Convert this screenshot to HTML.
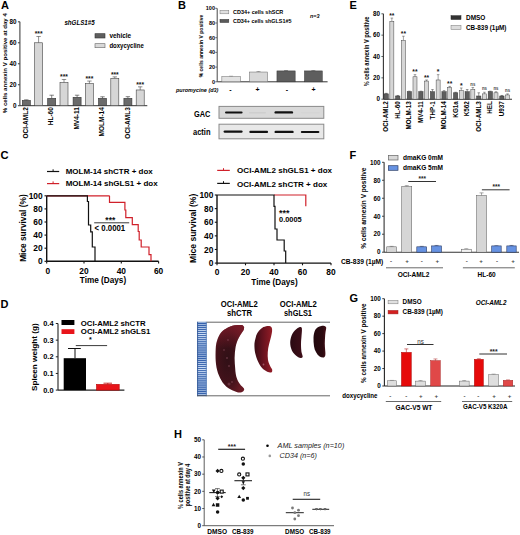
<!DOCTYPE html><html><head><meta charset="utf-8"><style>html,body{margin:0;padding:0;background:#fff;}svg{display:block;}text{font-family:"Liberation Sans",sans-serif;}</style></head><body>
<svg width="520" height="535" viewBox="0 0 520 535">
<rect width="520" height="535" fill="#fff"/>
<text x="0.9" y="9.28" font-size="11" font-weight="bold">A</text>
<line x1="19.9" y1="105.7" x2="19.9" y2="21.8" stroke="#444" stroke-width="1.1"/>
<line x1="17.9" y1="105.7" x2="19.9" y2="105.7" stroke="#444" stroke-width="1.1"/>
<text x="16.4" y="107.97" font-size="6.3" font-weight="bold" text-anchor="end">0</text>
<line x1="17.9" y1="84.72" x2="19.9" y2="84.72" stroke="#444" stroke-width="1.1"/>
<text x="16.4" y="86.99" font-size="6.3" font-weight="bold" text-anchor="end">20</text>
<line x1="17.9" y1="63.75" x2="19.9" y2="63.75" stroke="#444" stroke-width="1.1"/>
<text x="16.4" y="66.02" font-size="6.3" font-weight="bold" text-anchor="end">40</text>
<line x1="17.9" y1="42.77" x2="19.9" y2="42.77" stroke="#444" stroke-width="1.1"/>
<text x="16.4" y="45.04" font-size="6.3" font-weight="bold" text-anchor="end">60</text>
<line x1="17.9" y1="21.8" x2="19.9" y2="21.8" stroke="#444" stroke-width="1.1"/>
<text x="16.4" y="24.07" font-size="6.3" font-weight="bold" text-anchor="end">80</text>
<line x1="19.9" y1="105.7" x2="147.3" y2="105.7" stroke="#333" stroke-width="1.0"/>
<text x="6.76" y="113.2" font-size="6" font-weight="bold" textLength="100" lengthAdjust="spacingAndGlyphs" transform="rotate(-90 6.76 113.2)">% cells annexin V positive at day 4</text>
<line x1="26.3" y1="100.46" x2="26.3" y2="99.83" stroke="#333" stroke-width="0.6"/>
<line x1="24.1" y1="99.83" x2="28.5" y2="99.83" stroke="#333" stroke-width="0.6"/>
<rect x="22.3" y="100.46" width="8" height="5.24" fill="#6b6b6b" stroke="#333" stroke-width="0.6"/>
<line x1="38.6" y1="42.77" x2="38.6" y2="36.48" stroke="#444" stroke-width="0.6"/>
<line x1="36.4" y1="36.48" x2="40.8" y2="36.48" stroke="#444" stroke-width="0.6"/>
<rect x="34.6" y="42.77" width="8" height="62.93" fill="#d6d6d6" stroke="#444" stroke-width="0.6"/>
<text x="34.68" y="36.46" font-size="6.71" font-weight="bold" fill="#111">***</text>
<line x1="51.7" y1="98.36" x2="51.7" y2="95.21" stroke="#333" stroke-width="0.6"/>
<line x1="49.5" y1="95.21" x2="53.9" y2="95.21" stroke="#333" stroke-width="0.6"/>
<rect x="47.7" y="98.36" width="8" height="7.34" fill="#6b6b6b" stroke="#333" stroke-width="0.6"/>
<line x1="64" y1="82.63" x2="64" y2="79.48" stroke="#444" stroke-width="0.6"/>
<line x1="61.8" y1="79.48" x2="66.2" y2="79.48" stroke="#444" stroke-width="0.6"/>
<rect x="60" y="82.63" width="8" height="23.07" fill="#d6d6d6" stroke="#444" stroke-width="0.6"/>
<text x="60.08" y="79.45" font-size="6.71" font-weight="bold" fill="#111">***</text>
<line x1="77.1" y1="97.31" x2="77.1" y2="95.21" stroke="#333" stroke-width="0.6"/>
<line x1="74.9" y1="95.21" x2="79.3" y2="95.21" stroke="#333" stroke-width="0.6"/>
<rect x="73.1" y="97.31" width="8" height="8.39" fill="#6b6b6b" stroke="#333" stroke-width="0.6"/>
<line x1="89.4" y1="83.68" x2="89.4" y2="81.05" stroke="#444" stroke-width="0.6"/>
<line x1="87.2" y1="81.05" x2="91.6" y2="81.05" stroke="#444" stroke-width="0.6"/>
<rect x="85.4" y="83.68" width="8" height="22.02" fill="#d6d6d6" stroke="#444" stroke-width="0.6"/>
<text x="85.48" y="81.03" font-size="6.71" font-weight="bold" fill="#111">***</text>
<line x1="102.5" y1="98.36" x2="102.5" y2="96.79" stroke="#333" stroke-width="0.6"/>
<line x1="100.3" y1="96.79" x2="104.7" y2="96.79" stroke="#333" stroke-width="0.6"/>
<rect x="98.5" y="98.36" width="8" height="7.34" fill="#6b6b6b" stroke="#333" stroke-width="0.6"/>
<line x1="114.8" y1="78.43" x2="114.8" y2="76.86" stroke="#444" stroke-width="0.6"/>
<line x1="112.6" y1="76.86" x2="117" y2="76.86" stroke="#444" stroke-width="0.6"/>
<rect x="110.8" y="78.43" width="8" height="27.27" fill="#d6d6d6" stroke="#444" stroke-width="0.6"/>
<text x="110.88" y="76.83" font-size="6.71" font-weight="bold" fill="#111">***</text>
<line x1="127.9" y1="98.36" x2="127.9" y2="96.68" stroke="#333" stroke-width="0.6"/>
<line x1="125.7" y1="96.68" x2="130.1" y2="96.68" stroke="#333" stroke-width="0.6"/>
<rect x="123.9" y="98.36" width="8" height="7.34" fill="#6b6b6b" stroke="#333" stroke-width="0.6"/>
<line x1="140.2" y1="89.97" x2="140.2" y2="86.82" stroke="#444" stroke-width="0.6"/>
<line x1="138" y1="86.82" x2="142.4" y2="86.82" stroke="#444" stroke-width="0.6"/>
<rect x="136.2" y="89.97" width="8" height="15.73" fill="#d6d6d6" stroke="#444" stroke-width="0.6"/>
<text x="136.28" y="86.8" font-size="6.71" font-weight="bold" fill="#111">***</text>
<text x="27.94" y="107.2" font-size="6.5" font-weight="bold" text-anchor="end" transform="rotate(-90 27.94 107.2)">OCI-AML2</text>
<text x="53.34" y="107.2" font-size="6.5" font-weight="bold" text-anchor="end" transform="rotate(-90 53.34 107.2)">HL-60</text>
<text x="78.74" y="107.2" font-size="6.5" font-weight="bold" text-anchor="end" transform="rotate(-90 78.74 107.2)">MV4-11</text>
<text x="104.14" y="107.2" font-size="6.5" font-weight="bold" text-anchor="end" transform="rotate(-90 104.14 107.2)">MOLM-14</text>
<text x="129.54" y="107.2" font-size="6.5" font-weight="bold" text-anchor="end" transform="rotate(-90 129.54 107.2)">OCI-AML3</text>
<text x="64.4" y="25.06" font-size="7.4" font-weight="bold" font-style="italic" textLength="30.2" lengthAdjust="spacingAndGlyphs">shGLS1#5</text>
<rect x="95" y="33.7" width="10" height="4.3" fill="#5e5e5e" stroke="#333" stroke-width="0.6"/>
<rect x="95" y="43.7" width="10" height="4" fill="#d8d8d8" stroke="#666" stroke-width="0.6"/>
<text x="109.4" y="38.19" font-size="7.2" font-weight="bold" textLength="21.8" lengthAdjust="spacingAndGlyphs">vehicle</text>
<text x="109.4" y="48.29" font-size="7.2" font-weight="bold" textLength="34.4" lengthAdjust="spacingAndGlyphs">doxycycline</text>
<text x="177.9" y="9.28" font-size="11" font-weight="bold">B</text>
<line x1="217.2" y1="81.8" x2="217.2" y2="8.3" stroke="#333" stroke-width="0.9"/>
<line x1="215.3" y1="81.8" x2="217" y2="81.8" stroke="#333" stroke-width="0.7"/>
<text x="215" y="83.78" font-size="5.5" font-weight="bold" text-anchor="end">0</text>
<line x1="215.3" y1="67.1" x2="217" y2="67.1" stroke="#333" stroke-width="0.7"/>
<text x="215" y="69.08" font-size="5.5" font-weight="bold" text-anchor="end">20</text>
<line x1="215.3" y1="52.4" x2="217" y2="52.4" stroke="#333" stroke-width="0.7"/>
<text x="215" y="54.38" font-size="5.5" font-weight="bold" text-anchor="end">40</text>
<line x1="215.3" y1="37.7" x2="217" y2="37.7" stroke="#333" stroke-width="0.7"/>
<text x="215" y="39.68" font-size="5.5" font-weight="bold" text-anchor="end">60</text>
<line x1="215.3" y1="23" x2="217" y2="23" stroke="#333" stroke-width="0.7"/>
<text x="215" y="24.98" font-size="5.5" font-weight="bold" text-anchor="end">80</text>
<line x1="215.3" y1="8.3" x2="217" y2="8.3" stroke="#333" stroke-width="0.7"/>
<text x="215" y="10.28" font-size="5.5" font-weight="bold" text-anchor="end">100</text>
<line x1="217.2" y1="81.8" x2="327.6" y2="81.8" stroke="#333" stroke-width="1.0"/>
<text x="202.76" y="77.3" font-size="4.6" font-weight="bold" textLength="62.6" lengthAdjust="spacingAndGlyphs" transform="rotate(-90 202.76 77.3)">% cells annexin V positive</text>
<line x1="231.1" y1="76.66" x2="231.1" y2="76.21" stroke="#666" stroke-width="0.5"/>
<line x1="229.1" y1="76.21" x2="233.1" y2="76.21" stroke="#666" stroke-width="0.5"/>
<rect x="221.85" y="76.66" width="18.5" height="5.14" fill="#e2e2e2" stroke="#666" stroke-width="0.5"/>
<line x1="258.5" y1="72.02" x2="258.5" y2="71.51" stroke="#666" stroke-width="0.5"/>
<line x1="256.5" y1="71.51" x2="260.5" y2="71.51" stroke="#666" stroke-width="0.5"/>
<rect x="249.45" y="72.02" width="18.1" height="9.78" fill="#d8d8d8" stroke="#666" stroke-width="0.5"/>
<line x1="286.05" y1="70.92" x2="286.05" y2="70.63" stroke="#333" stroke-width="0.5"/>
<line x1="284.05" y1="70.63" x2="288.05" y2="70.63" stroke="#333" stroke-width="0.5"/>
<rect x="276.95" y="70.92" width="18.2" height="10.88" fill="#5e5e5e" stroke="#333" stroke-width="0.5"/>
<line x1="313.35" y1="70.92" x2="313.35" y2="70.63" stroke="#333" stroke-width="0.5"/>
<line x1="311.35" y1="70.63" x2="315.35" y2="70.63" stroke="#333" stroke-width="0.5"/>
<rect x="304.45" y="70.92" width="17.8" height="10.88" fill="#5e5e5e" stroke="#333" stroke-width="0.5"/>
<text x="176" y="91.96" font-size="6" font-weight="bold" font-style="italic" textLength="42.4" lengthAdjust="spacingAndGlyphs">puromycine (d3)</text>
<text x="230.5" y="92.32" font-size="7" font-weight="bold" text-anchor="middle">-</text>
<text x="257.5" y="92.32" font-size="7" font-weight="bold" text-anchor="middle">+</text>
<text x="286.8" y="92.32" font-size="7" font-weight="bold" text-anchor="middle">-</text>
<text x="313.6" y="92.32" font-size="7" font-weight="bold" text-anchor="middle">+</text>
<rect x="220" y="10.4" width="8.8" height="3.4" fill="#e0e0e0" stroke="#777" stroke-width="0.5"/>
<rect x="220" y="19.4" width="8.8" height="3.1" fill="#5a5a5a" stroke="#333" stroke-width="0.5"/>
<text x="233" y="14.12" font-size="5.6" font-weight="bold" textLength="50.3" lengthAdjust="spacingAndGlyphs">CD34+ cells shSCR</text>
<text x="233" y="22.62" font-size="5.6" font-weight="bold" textLength="58.5" lengthAdjust="spacingAndGlyphs">CD34+ cells shGLS1#5</text>
<text x="310" y="18.42" font-size="5.6" font-weight="bold" font-style="italic" textLength="9.5" lengthAdjust="spacingAndGlyphs">n=3</text>
<rect x="219" y="106.4" width="104.8" height="11.9" fill="#d9d9d9" stroke="#8a8a8a" stroke-width="1.0"/>
<rect x="219" y="124.2" width="104.8" height="14.6" fill="#e8e8e8" stroke="#8a8a8a" stroke-width="1.0"/>
<text x="194" y="116.7" font-size="8.4" font-weight="bold" textLength="16.4" lengthAdjust="spacingAndGlyphs">GAC</text>
<text x="193" y="134.62" font-size="8.4" font-weight="bold" textLength="17.5" lengthAdjust="spacingAndGlyphs">actin</text>
<rect x="225" y="111.4" width="17.6" height="2.2" rx="1.1" fill="#111" opacity="1"/>
<rect x="249" y="112" width="17" height="1.6" rx="0.8" fill="#c4c4c4" opacity="0.5"/>
<rect x="274.5" y="111.2" width="18.6" height="2.4" rx="1.2" fill="#111" opacity="1"/>
<rect x="300.8" y="111.9" width="18.9" height="1.4" rx="0.7" fill="#cccccc" opacity="0.3"/>
<rect x="223.6" y="130.4" width="19" height="2.4" rx="1.2" fill="#111" opacity="1"/>
<rect x="249.3" y="130.85" width="18.8" height="2.1" rx="1.05" fill="#111" opacity="1"/>
<rect x="274.5" y="130.7" width="19.2" height="2.4" rx="1.2" fill="#111" opacity="1"/>
<rect x="300.8" y="130.95" width="18.6" height="2.1" rx="1.05" fill="#111" opacity="1"/>
<text x="349.6" y="9.28" font-size="11" font-weight="bold">E</text>
<line x1="383.4" y1="99.2" x2="383.4" y2="13.8" stroke="#333" stroke-width="1.1"/>
<line x1="381.4" y1="99.2" x2="383.4" y2="99.2" stroke="#333" stroke-width="0.8"/>
<text x="380" y="101.47" font-size="6.3" font-weight="bold" text-anchor="end">0</text>
<line x1="381.4" y1="77.85" x2="383.4" y2="77.85" stroke="#333" stroke-width="0.8"/>
<text x="380" y="80.12" font-size="6.3" font-weight="bold" text-anchor="end">20</text>
<line x1="381.4" y1="56.5" x2="383.4" y2="56.5" stroke="#333" stroke-width="0.8"/>
<text x="380" y="58.77" font-size="6.3" font-weight="bold" text-anchor="end">40</text>
<line x1="381.4" y1="35.15" x2="383.4" y2="35.15" stroke="#333" stroke-width="0.8"/>
<text x="380" y="37.42" font-size="6.3" font-weight="bold" text-anchor="end">60</text>
<line x1="381.4" y1="13.8" x2="383.4" y2="13.8" stroke="#333" stroke-width="0.8"/>
<text x="380" y="16.07" font-size="6.3" font-weight="bold" text-anchor="end">80</text>
<line x1="383.4" y1="99.2" x2="512" y2="99.2" stroke="#333" stroke-width="1.1"/>
<text x="368.9" y="86.3" font-size="6.4" font-weight="bold" textLength="69.8" lengthAdjust="spacingAndGlyphs" transform="rotate(-90 368.9 86.3)">% cells annexin V positive</text>
<line x1="386.2" y1="93.86" x2="386.2" y2="93.33" stroke="#333" stroke-width="0.5"/>
<line x1="384.9" y1="93.33" x2="387.5" y2="93.33" stroke="#333" stroke-width="0.5"/>
<rect x="384.05" y="93.86" width="4.3" height="5.34" fill="#5e5e5e" stroke="#333" stroke-width="0.5"/>
<line x1="391.85" y1="21.27" x2="391.85" y2="18.07" stroke="#444" stroke-width="0.5"/>
<line x1="390.55" y1="18.07" x2="393.15" y2="18.07" stroke="#444" stroke-width="0.5"/>
<rect x="389.85" y="21.27" width="4" height="77.93" fill="#d6d6d6" stroke="#444" stroke-width="0.5"/>
<text x="389.23" y="17.85" font-size="6.73" font-weight="bold" fill="#111">**</text>
<text x="388.37" y="101.2" font-size="6.3" font-weight="bold" text-anchor="end" transform="rotate(-90 388.37 101.2)">OCI-AML2</text>
<line x1="397.77" y1="96" x2="397.77" y2="95.46" stroke="#333" stroke-width="0.5"/>
<line x1="396.47" y1="95.46" x2="399.07" y2="95.46" stroke="#333" stroke-width="0.5"/>
<rect x="395.62" y="96" width="4.3" height="3.2" fill="#5e5e5e" stroke="#333" stroke-width="0.5"/>
<line x1="403.42" y1="40.49" x2="403.42" y2="36.22" stroke="#444" stroke-width="0.5"/>
<line x1="402.12" y1="36.22" x2="404.72" y2="36.22" stroke="#444" stroke-width="0.5"/>
<rect x="401.42" y="40.49" width="4" height="58.71" fill="#d6d6d6" stroke="#444" stroke-width="0.5"/>
<text x="400.8" y="36" font-size="6.73" font-weight="bold" fill="#111">**</text>
<text x="399.94" y="101.2" font-size="6.3" font-weight="bold" text-anchor="end" transform="rotate(-90 399.94 101.2)">HL-60</text>
<line x1="409.34" y1="91.73" x2="409.34" y2="91.19" stroke="#333" stroke-width="0.5"/>
<line x1="408.04" y1="91.19" x2="410.64" y2="91.19" stroke="#333" stroke-width="0.5"/>
<rect x="407.19" y="91.73" width="4.3" height="7.47" fill="#5e5e5e" stroke="#333" stroke-width="0.5"/>
<line x1="414.99" y1="76.78" x2="414.99" y2="74.65" stroke="#444" stroke-width="0.5"/>
<line x1="413.69" y1="74.65" x2="416.29" y2="74.65" stroke="#444" stroke-width="0.5"/>
<rect x="412.99" y="76.78" width="4" height="22.42" fill="#d6d6d6" stroke="#444" stroke-width="0.5"/>
<text x="412.37" y="74.43" font-size="6.73" font-weight="bold" fill="#111">**</text>
<text x="411.51" y="101.2" font-size="6.3" font-weight="bold" text-anchor="end" transform="rotate(-90 411.51 101.2)">MOLM-13</text>
<line x1="420.91" y1="91.73" x2="420.91" y2="91.19" stroke="#333" stroke-width="0.5"/>
<line x1="419.61" y1="91.19" x2="422.21" y2="91.19" stroke="#333" stroke-width="0.5"/>
<rect x="418.76" y="91.73" width="4.3" height="7.47" fill="#5e5e5e" stroke="#333" stroke-width="0.5"/>
<line x1="426.56" y1="81.05" x2="426.56" y2="79.98" stroke="#444" stroke-width="0.5"/>
<line x1="425.26" y1="79.98" x2="427.86" y2="79.98" stroke="#444" stroke-width="0.5"/>
<rect x="424.56" y="81.05" width="4" height="18.15" fill="#d6d6d6" stroke="#444" stroke-width="0.5"/>
<text x="423.94" y="79.77" font-size="6.73" font-weight="bold" fill="#111">**</text>
<text x="423.08" y="101.2" font-size="6.3" font-weight="bold" text-anchor="end" transform="rotate(-90 423.08 101.2)">MV4-11</text>
<line x1="432.48" y1="91.73" x2="432.48" y2="89.59" stroke="#333" stroke-width="0.5"/>
<line x1="431.18" y1="89.59" x2="433.78" y2="89.59" stroke="#333" stroke-width="0.5"/>
<rect x="430.33" y="91.73" width="4.3" height="7.47" fill="#5e5e5e" stroke="#333" stroke-width="0.5"/>
<line x1="438.13" y1="79.98" x2="438.13" y2="74.65" stroke="#444" stroke-width="0.5"/>
<line x1="436.83" y1="74.65" x2="439.43" y2="74.65" stroke="#444" stroke-width="0.5"/>
<rect x="436.13" y="79.98" width="4" height="19.22" fill="#d6d6d6" stroke="#444" stroke-width="0.5"/>
<text x="436.81" y="74.45" font-size="6.77" font-weight="bold" fill="#111">*</text>
<text x="434.65" y="101.2" font-size="6.3" font-weight="bold" text-anchor="end" transform="rotate(-90 434.65 101.2)">THP-1</text>
<line x1="444.05" y1="91.73" x2="444.05" y2="90.66" stroke="#333" stroke-width="0.5"/>
<line x1="442.75" y1="90.66" x2="445.35" y2="90.66" stroke="#333" stroke-width="0.5"/>
<rect x="441.9" y="91.73" width="4.3" height="7.47" fill="#5e5e5e" stroke="#333" stroke-width="0.5"/>
<line x1="449.7" y1="87.46" x2="449.7" y2="86.39" stroke="#444" stroke-width="0.5"/>
<line x1="448.4" y1="86.39" x2="451" y2="86.39" stroke="#444" stroke-width="0.5"/>
<rect x="447.7" y="87.46" width="4" height="11.74" fill="#d6d6d6" stroke="#444" stroke-width="0.5"/>
<text x="447.08" y="86.17" font-size="6.73" font-weight="bold" fill="#111">**</text>
<text x="446.22" y="101.2" font-size="6.3" font-weight="bold" text-anchor="end" transform="rotate(-90 446.22 101.2)">MOLM-14</text>
<line x1="455.62" y1="92.8" x2="455.62" y2="92.26" stroke="#333" stroke-width="0.5"/>
<line x1="454.32" y1="92.26" x2="456.92" y2="92.26" stroke="#333" stroke-width="0.5"/>
<rect x="453.47" y="92.8" width="4.3" height="6.41" fill="#5e5e5e" stroke="#333" stroke-width="0.5"/>
<line x1="461.27" y1="90.66" x2="461.27" y2="87.99" stroke="#444" stroke-width="0.5"/>
<line x1="459.97" y1="87.99" x2="462.57" y2="87.99" stroke="#444" stroke-width="0.5"/>
<rect x="459.27" y="90.66" width="4" height="8.54" fill="#d6d6d6" stroke="#444" stroke-width="0.5"/>
<text x="459.95" y="87.79" font-size="6.77" font-weight="bold" fill="#111">*</text>
<text x="457.79" y="101.2" font-size="6.3" font-weight="bold" text-anchor="end" transform="rotate(-90 457.79 101.2)">KG1a</text>
<line x1="467.19" y1="91.73" x2="467.19" y2="89.59" stroke="#333" stroke-width="0.5"/>
<line x1="465.89" y1="89.59" x2="468.49" y2="89.59" stroke="#333" stroke-width="0.5"/>
<rect x="465.04" y="91.73" width="4.3" height="7.47" fill="#5e5e5e" stroke="#333" stroke-width="0.5"/>
<line x1="472.84" y1="89.59" x2="472.84" y2="87.46" stroke="#444" stroke-width="0.5"/>
<line x1="471.54" y1="87.46" x2="474.14" y2="87.46" stroke="#444" stroke-width="0.5"/>
<rect x="470.84" y="89.59" width="4" height="9.61" fill="#d6d6d6" stroke="#444" stroke-width="0.5"/>
<text x="472.84" y="85.67" font-size="5.6" font-weight="bold" text-anchor="middle" fill="#444" textLength="5" lengthAdjust="spacingAndGlyphs">ns</text>
<text x="469.36" y="101.2" font-size="6.3" font-weight="bold" text-anchor="end" transform="rotate(-90 469.36 101.2)">K562</text>
<line x1="478.76" y1="96" x2="478.76" y2="92.8" stroke="#333" stroke-width="0.5"/>
<line x1="477.46" y1="92.8" x2="480.06" y2="92.8" stroke="#333" stroke-width="0.5"/>
<rect x="476.61" y="96" width="4.3" height="3.2" fill="#5e5e5e" stroke="#333" stroke-width="0.5"/>
<line x1="484.41" y1="93.86" x2="484.41" y2="92.26" stroke="#444" stroke-width="0.5"/>
<line x1="483.11" y1="92.26" x2="485.71" y2="92.26" stroke="#444" stroke-width="0.5"/>
<rect x="482.41" y="93.86" width="4" height="5.34" fill="#d6d6d6" stroke="#444" stroke-width="0.5"/>
<text x="484.41" y="90.48" font-size="5.6" font-weight="bold" text-anchor="middle" fill="#444" textLength="5" lengthAdjust="spacingAndGlyphs">ns</text>
<text x="480.93" y="101.2" font-size="6.3" font-weight="bold" text-anchor="end" transform="rotate(-90 480.93 101.2)">OCI-AML3</text>
<line x1="490.33" y1="91.73" x2="490.33" y2="91.19" stroke="#333" stroke-width="0.5"/>
<line x1="489.03" y1="91.19" x2="491.63" y2="91.19" stroke="#333" stroke-width="0.5"/>
<rect x="488.18" y="91.73" width="4.3" height="7.47" fill="#5e5e5e" stroke="#333" stroke-width="0.5"/>
<line x1="495.98" y1="92.8" x2="495.98" y2="91.73" stroke="#444" stroke-width="0.5"/>
<line x1="494.68" y1="91.73" x2="497.28" y2="91.73" stroke="#444" stroke-width="0.5"/>
<rect x="493.98" y="92.8" width="4" height="6.41" fill="#d6d6d6" stroke="#444" stroke-width="0.5"/>
<text x="495.98" y="89.94" font-size="5.6" font-weight="bold" text-anchor="middle" fill="#444" textLength="5" lengthAdjust="spacingAndGlyphs">ns</text>
<text x="492.5" y="101.2" font-size="6.3" font-weight="bold" text-anchor="end" transform="rotate(-90 492.5 101.2)">HEL</text>
<line x1="501.9" y1="96" x2="501.9" y2="95.46" stroke="#333" stroke-width="0.5"/>
<line x1="500.6" y1="95.46" x2="503.2" y2="95.46" stroke="#333" stroke-width="0.5"/>
<rect x="499.75" y="96" width="4.3" height="3.2" fill="#5e5e5e" stroke="#333" stroke-width="0.5"/>
<line x1="507.55" y1="94.93" x2="507.55" y2="93.86" stroke="#444" stroke-width="0.5"/>
<line x1="506.25" y1="93.86" x2="508.85" y2="93.86" stroke="#444" stroke-width="0.5"/>
<rect x="505.55" y="94.93" width="4" height="4.27" fill="#d6d6d6" stroke="#444" stroke-width="0.5"/>
<text x="507.55" y="92.08" font-size="5.6" font-weight="bold" text-anchor="middle" fill="#444" textLength="5" lengthAdjust="spacingAndGlyphs">ns</text>
<text x="504.07" y="101.2" font-size="6.3" font-weight="bold" text-anchor="end" transform="rotate(-90 504.07 101.2)">U937</text>
<rect x="451" y="15.7" width="10" height="3.8" fill="#333" stroke="#222" stroke-width="0.5"/>
<rect x="451" y="25.4" width="10" height="4.1" fill="#dcdcdc" stroke="#777" stroke-width="0.5"/>
<text x="466" y="20.22" font-size="7" font-weight="bold" textLength="19.4" lengthAdjust="spacingAndGlyphs">DMSO</text>
<text x="466" y="30.22" font-size="7" font-weight="bold" textLength="40.5" lengthAdjust="spacingAndGlyphs">CB-839 (1µM)</text>
<text x="0.6" y="159.42" font-size="11.2" font-weight="bold">C</text>
<line x1="46.7" y1="261.3" x2="46.7" y2="195.8" stroke="#111" stroke-width="1.4"/>
<line x1="44.5" y1="261.3" x2="46.7" y2="261.3" stroke="#111" stroke-width="1.1"/>
<text x="42.7" y="264.32" font-size="8.4" font-weight="bold" text-anchor="end">0</text>
<line x1="44.5" y1="248.2" x2="46.7" y2="248.2" stroke="#111" stroke-width="1.1"/>
<text x="42.7" y="251.22" font-size="8.4" font-weight="bold" text-anchor="end">20</text>
<line x1="44.5" y1="235.1" x2="46.7" y2="235.1" stroke="#111" stroke-width="1.1"/>
<text x="42.7" y="238.12" font-size="8.4" font-weight="bold" text-anchor="end">40</text>
<line x1="44.5" y1="222" x2="46.7" y2="222" stroke="#111" stroke-width="1.1"/>
<text x="42.7" y="225.02" font-size="8.4" font-weight="bold" text-anchor="end">60</text>
<line x1="44.5" y1="208.9" x2="46.7" y2="208.9" stroke="#111" stroke-width="1.1"/>
<text x="42.7" y="211.92" font-size="8.4" font-weight="bold" text-anchor="end">80</text>
<line x1="44.5" y1="195.8" x2="46.7" y2="195.8" stroke="#111" stroke-width="1.1"/>
<text x="42.7" y="198.82" font-size="8.4" font-weight="bold" text-anchor="end">100</text>
<line x1="46.7" y1="261.3" x2="158.6" y2="261.3" stroke="#111" stroke-width="1.4"/>
<line x1="46.7" y1="261.3" x2="46.7" y2="263.5" stroke="#111" stroke-width="1.1"/>
<text x="47.9" y="273.62" font-size="8.4" font-weight="bold" text-anchor="middle">0</text>
<line x1="84" y1="261.3" x2="84" y2="263.5" stroke="#111" stroke-width="1.1"/>
<text x="84" y="273.62" font-size="8.4" font-weight="bold" text-anchor="middle">20</text>
<line x1="121.3" y1="261.3" x2="121.3" y2="263.5" stroke="#111" stroke-width="1.1"/>
<text x="121.3" y="273.62" font-size="8.4" font-weight="bold" text-anchor="middle">40</text>
<line x1="158.6" y1="261.3" x2="158.6" y2="263.5" stroke="#111" stroke-width="1.1"/>
<text x="158.6" y="273.62" font-size="8.4" font-weight="bold" text-anchor="middle">60</text>
<text x="103" y="283.25" font-size="8.2" font-weight="bold" text-anchor="middle" textLength="46.3" lengthAdjust="spacingAndGlyphs">Time (Days)</text>
<text x="25.82" y="261.8" font-size="8.4" font-weight="bold" textLength="67.5" lengthAdjust="spacingAndGlyphs" transform="rotate(-90 25.82 261.8)">Mice survival (%)</text>
<line x1="47" y1="171.5" x2="59.2" y2="171.5" stroke="#111" stroke-width="1.2"/>
<line x1="53.1" y1="169.3" x2="53.1" y2="171.5" stroke="#111" stroke-width="1.0"/>
<line x1="47" y1="183.6" x2="59.2" y2="183.6" stroke="#d0202a" stroke-width="1.2"/>
<line x1="53.1" y1="181.4" x2="53.1" y2="183.6" stroke="#d0202a" stroke-width="1.0"/>
<text x="65.7" y="174.38" font-size="8" font-weight="bold" textLength="87" lengthAdjust="spacingAndGlyphs">MOLM-14 shCTR + dox</text>
<text x="65.7" y="186.48" font-size="8" font-weight="bold" textLength="92" lengthAdjust="spacingAndGlyphs">MOLM-14 shGLS1 + dox</text>
<path d="M109.5,195.8 V202.3 H124.9 V210 H125.8 V217.7 H132.3 V224.6 H138.2 V231.5 H139.2 V240 H141.2 V247 H149 V254.6 H151 V261.3" stroke="#d0202a" stroke-width="1.2" fill="none"/>
<path d="M46.7,195.8 H109.5" stroke="#d0202a" stroke-width="1.2" fill="none"/>
<path d="M46.7,195.8 H87.4 V201.5 H88.5 V225 H90.7 V231.8 H92.3 V247 H95 V261.3" stroke="#111" stroke-width="1.2" fill="none"/>
<line x1="94.2" y1="222.8" x2="129.2" y2="222.8" stroke="#222" stroke-width="0.9"/>
<text x="105.37" y="223.34" font-size="8.43" font-weight="bold" fill="#111">***</text>
<text x="94.6" y="231.4" font-size="8.2" font-weight="bold" textLength="30.6" lengthAdjust="spacingAndGlyphs">&lt; 0.0001</text>
<line x1="217" y1="263.1" x2="217" y2="195" stroke="#111" stroke-width="1.4"/>
<line x1="214.8" y1="263.1" x2="217" y2="263.1" stroke="#111" stroke-width="1.1"/>
<text x="213.4" y="266.12" font-size="8.4" font-weight="bold" text-anchor="end">0</text>
<line x1="214.8" y1="249.48" x2="217" y2="249.48" stroke="#111" stroke-width="1.1"/>
<text x="213.4" y="252.5" font-size="8.4" font-weight="bold" text-anchor="end">20</text>
<line x1="214.8" y1="235.86" x2="217" y2="235.86" stroke="#111" stroke-width="1.1"/>
<text x="213.4" y="238.88" font-size="8.4" font-weight="bold" text-anchor="end">40</text>
<line x1="214.8" y1="222.24" x2="217" y2="222.24" stroke="#111" stroke-width="1.1"/>
<text x="213.4" y="225.26" font-size="8.4" font-weight="bold" text-anchor="end">60</text>
<line x1="214.8" y1="208.62" x2="217" y2="208.62" stroke="#111" stroke-width="1.1"/>
<text x="213.4" y="211.64" font-size="8.4" font-weight="bold" text-anchor="end">80</text>
<line x1="214.8" y1="195" x2="217" y2="195" stroke="#111" stroke-width="1.1"/>
<text x="213.4" y="198.02" font-size="8.4" font-weight="bold" text-anchor="end">100</text>
<line x1="217" y1="263.1" x2="331" y2="263.1" stroke="#111" stroke-width="1.4"/>
<line x1="217" y1="263.1" x2="217" y2="265.3" stroke="#111" stroke-width="1.1"/>
<text x="217" y="275.22" font-size="8.4" font-weight="bold" text-anchor="middle">0</text>
<line x1="245.5" y1="263.1" x2="245.5" y2="265.3" stroke="#111" stroke-width="1.1"/>
<text x="245.5" y="275.22" font-size="8.4" font-weight="bold" text-anchor="middle">20</text>
<line x1="274" y1="263.1" x2="274" y2="265.3" stroke="#111" stroke-width="1.1"/>
<text x="274" y="275.22" font-size="8.4" font-weight="bold" text-anchor="middle">40</text>
<line x1="302.5" y1="263.1" x2="302.5" y2="265.3" stroke="#111" stroke-width="1.1"/>
<text x="302.5" y="275.22" font-size="8.4" font-weight="bold" text-anchor="middle">60</text>
<line x1="331" y1="263.1" x2="331" y2="265.3" stroke="#111" stroke-width="1.1"/>
<text x="331" y="275.22" font-size="8.4" font-weight="bold" text-anchor="middle">80</text>
<text x="274.5" y="285.05" font-size="8.2" font-weight="bold" text-anchor="middle" textLength="46.3" lengthAdjust="spacingAndGlyphs">Time (Days)</text>
<text x="195.62" y="262.9" font-size="8.4" font-weight="bold" textLength="69.2" lengthAdjust="spacingAndGlyphs" transform="rotate(-90 195.62 262.9)">Mice survival (%)</text>
<line x1="217.2" y1="170.4" x2="229.8" y2="170.4" stroke="#d0202a" stroke-width="1.2"/>
<line x1="223.5" y1="168.2" x2="223.5" y2="170.4" stroke="#d0202a" stroke-width="1.0"/>
<line x1="217.2" y1="183.4" x2="229.8" y2="183.4" stroke="#111" stroke-width="1.2"/>
<line x1="223.5" y1="181.2" x2="223.5" y2="183.4" stroke="#111" stroke-width="1.0"/>
<text x="237.1" y="173.28" font-size="8" font-weight="bold" textLength="95" lengthAdjust="spacingAndGlyphs">OCI-AML2 shGLS1 + dox</text>
<text x="237.1" y="186.58" font-size="8" font-weight="bold" textLength="90.2" lengthAdjust="spacingAndGlyphs">OCI-AML2 shCTR + dox</text>
<path d="M274,195 H305.8 V206.3" stroke="#d0202a" stroke-width="1.2" fill="none"/>
<path d="M217,195 H274 V206.3 H275 V229 H277 V240 H284.2 V251 H285.7 V263.1" stroke="#111" stroke-width="1.2" fill="none"/>
<text x="278.97" y="215.8" font-size="8.95" font-weight="bold" fill="#111">***</text>
<text x="279" y="221.69" font-size="7.2" font-weight="bold" textLength="22.7" lengthAdjust="spacingAndGlyphs">0.0005</text>
<text x="0.6" y="308.28" font-size="11" font-weight="bold">D</text>
<line x1="58" y1="390.1" x2="58" y2="323.5" stroke="#222" stroke-width="1.1"/>
<line x1="55.8" y1="390.1" x2="58" y2="390.1" stroke="#222" stroke-width="1.0"/>
<text x="53.5" y="392.76" font-size="7.4" font-weight="bold" text-anchor="end">0.0</text>
<line x1="55.8" y1="373.45" x2="58" y2="373.45" stroke="#222" stroke-width="1.0"/>
<text x="53.5" y="376.11" font-size="7.4" font-weight="bold" text-anchor="end">0.1</text>
<line x1="55.8" y1="356.8" x2="58" y2="356.8" stroke="#222" stroke-width="1.0"/>
<text x="53.5" y="359.46" font-size="7.4" font-weight="bold" text-anchor="end">0.2</text>
<line x1="55.8" y1="340.15" x2="58" y2="340.15" stroke="#222" stroke-width="1.0"/>
<text x="53.5" y="342.81" font-size="7.4" font-weight="bold" text-anchor="end">0.3</text>
<line x1="55.8" y1="323.5" x2="58" y2="323.5" stroke="#222" stroke-width="1.0"/>
<text x="53.5" y="326.16" font-size="7.4" font-weight="bold" text-anchor="end">0.4</text>
<line x1="58" y1="390.1" x2="124.4" y2="390.1" stroke="#222" stroke-width="1.1"/>
<text x="37.06" y="391" font-size="7.4" font-weight="bold" textLength="67.7" lengthAdjust="spacingAndGlyphs" transform="rotate(-90 37.06 391)">Spleen weight (g)</text>
<line x1="75" y1="358.2" x2="75" y2="348.5" stroke="#111" stroke-width="1.0"/>
<line x1="68" y1="348.5" x2="80.8" y2="348.5" stroke="#111" stroke-width="1.0"/>
<rect x="63.7" y="358.2" width="22.3" height="31.9" fill="#000"/>
<line x1="107.8" y1="384.4" x2="107.8" y2="383.2" stroke="#b00" stroke-width="0.8"/>
<line x1="103.5" y1="383.2" x2="112" y2="383.2" stroke="#b00" stroke-width="0.8"/>
<rect x="96.5" y="384.4" width="22.7" height="5.7" fill="#e8141a" stroke="#b80000" stroke-width="0.6"/>
<rect x="61.5" y="320" width="12.9" height="5" fill="#000"/>
<rect x="61.5" y="329.2" width="12.9" height="4.8" fill="#e8141a"/>
<text x="80.8" y="325.82" font-size="8.1" font-weight="bold" textLength="64.8" lengthAdjust="spacingAndGlyphs">OCI-AML2 shCTR</text>
<text x="80.8" y="334.22" font-size="8.1" font-weight="bold" textLength="69.6" lengthAdjust="spacingAndGlyphs">OCI-AML2 shGLS1</text>
<line x1="75.8" y1="345.6" x2="107.1" y2="345.6" stroke="#222" stroke-width="0.9"/>
<text x="90.4" y="342.32" font-size="7" font-weight="bold" text-anchor="middle">*</text>
<defs><radialGradient id="sp1" cx="0.42" cy="0.5" r="0.62"><stop offset="0" stop-color="#301016"/><stop offset="0.6" stop-color="#42121a"/><stop offset="1" stop-color="#681a24"/></radialGradient><linearGradient id="sp1b" x1="0" y1="0" x2="0" y2="1"><stop offset="0" stop-color="#7a1a28" stop-opacity="0.8"/><stop offset="0.35" stop-color="#7a1a28" stop-opacity="0"/></linearGradient><linearGradient id="sp2" x1="0" y1="0" x2="1" y2="0"><stop offset="0" stop-color="#380c14"/><stop offset="0.45" stop-color="#64121e"/><stop offset="1" stop-color="#941c26"/></linearGradient><linearGradient id="sp3" x1="0" y1="0" x2="1" y2="0"><stop offset="0" stop-color="#2a0a12"/><stop offset="1" stop-color="#3e0e18"/></linearGradient><linearGradient id="sp4" x1="0" y1="0" x2="1" y2="0"><stop offset="0" stop-color="#22080e"/><stop offset="0.7" stop-color="#2c0a10"/><stop offset="1" stop-color="#461018"/></linearGradient><pattern id="rul" x="0" y="321.8" width="10" height="2.06" patternUnits="userSpaceOnUse"><rect width="10" height="2.06" fill="#3460ac"/><rect y="0" width="10" height="0.85" fill="#cfe0f6"/></pattern></defs>
<rect x="197.1" y="321.8" width="9.6" height="74.4" fill="url(#rul)"/>
<rect x="197.1" y="321.8" width="1" height="74.4" fill="#3a5f9c"/>
<rect x="205.8" y="321.8" width="0.9" height="74.4" fill="#5a80b8"/>
<line x1="206.7" y1="322.2" x2="330" y2="322.2" stroke="#555" stroke-width="0.9"/>
<line x1="197.1" y1="395.8" x2="330" y2="395.8" stroke="#555" stroke-width="0.9"/>
<path d="M244.1,327.2 C243.5,325.5 242.5,324.9 241,324.9 C236,324.9 233,325.2 230.3,326.4 C227,327.8 224.5,329.3 222.6,331 C220.5,333 219,335.5 218,338 C216.5,341.5 215.9,345 215.7,348.7 C215.5,352.5 215.5,357 215.7,361 C216,365.5 216.8,369.5 218,373.2 C219.2,376.5 220.7,379.6 222.6,382.4 C224.8,385.3 227.3,387.6 230.3,389.3 C232.8,390.7 235.3,391.8 238,392.4 C240,392.8 242.2,392.3 243.3,391.3 C244.2,390.5 244.4,389.5 244,388.6 C243.3,387.5 242.2,386.5 241,385.5 C239.5,383.7 238.1,381.6 237.2,379.3 C235.9,376 235.4,372.3 235.2,368.6 C234.9,365 234.6,361.5 234.6,357.9 C234.7,354 235,350.5 235.6,347.1 C236.3,343.7 237.3,340.7 238.7,338 C239.8,335.8 241.2,333.7 242.5,331.8 C243.3,330.6 243.9,329.6 244,328.7 C244.1,328.2 244.2,327.7 244.1,327.2 Z" stroke="none" stroke-width="0" fill="url(#sp1)"/>
<path d="M244.1,327.2 C243.5,325.5 242.5,324.9 241,324.9 C236,324.9 233,325.2 230.3,326.4 C227,327.8 224.5,329.3 222.6,331 C220.5,333 219,335.5 218,338 C216.5,341.5 215.9,345 215.7,348.7 C215.5,352.5 215.5,357 215.7,361 C216,365.5 216.8,369.5 218,373.2 C219.2,376.5 220.7,379.6 222.6,382.4 C224.8,385.3 227.3,387.6 230.3,389.3 C232.8,390.7 235.3,391.8 238,392.4 C240,392.8 242.2,392.3 243.3,391.3 C244.2,390.5 244.4,389.5 244,388.6 C243.3,387.5 242.2,386.5 241,385.5 C239.5,383.7 238.1,381.6 237.2,379.3 C235.9,376 235.4,372.3 235.2,368.6 C234.9,365 234.6,361.5 234.6,357.9 C234.7,354 235,350.5 235.6,347.1 C236.3,343.7 237.3,340.7 238.7,338 C239.8,335.8 241.2,333.7 242.5,331.8 C243.3,330.6 243.9,329.6 244,328.7 C244.1,328.2 244.2,327.7 244.1,327.2 Z" stroke="none" stroke-width="0" fill="url(#sp1b)"/>
<circle cx="227" cy="358" r="1.1" fill="#a06070" opacity="0.4"/>
<circle cx="229" cy="366" r="1.0" fill="#a06070" opacity="0.4"/>
<circle cx="229" cy="384" r="1.5" fill="#a06070" opacity="0.4"/>
<circle cx="232" cy="382" r="1.0" fill="#a06070" opacity="0.4"/>
<circle cx="224" cy="350" r="0.9" fill="#a06070" opacity="0.4"/>
<circle cx="228" cy="340" r="0.9" fill="#a06070" opacity="0.4"/>
<path d="M263.4,327.1 C265.5,326.3 268,325.8 269.5,326.1 C271.5,326.5 272.4,328 272.1,331.2 C271.8,334 270.5,339 269,344.6 C267.8,349 267.3,355 268,360 C268.5,363 270,366 272.1,369.3 C272.5,371 272.2,372.4 271,372.6 C269.5,372.8 265,371 262.3,368.2 C259.5,365.5 256.5,359 255.1,352.8 C254.3,348 254.3,344 254.6,342.6 C255,339.5 256,337 256.2,335.4 C257.5,332.5 260,329 263.4,327.1 Z" stroke="none" stroke-width="0" fill="url(#sp2)"/>
<circle cx="263.5" cy="364.5" r="0.9" fill="#c08090" opacity="0.6"/>
<path d="M299.3,327.2 C300.5,326.8 301.6,327 301.9,328.5 C302.1,331 301.6,334.5 301.4,337.6 C301.1,340 301,342.5 301,344.5 C301,347 301.2,349.5 301.4,351.4 C301.7,353.3 302.6,355 302.7,356.6 C302.6,357.8 301.8,358.2 300.8,358 C299,357.7 297.5,356.8 296.2,355.7 C294.3,354.1 292.9,352.4 291.9,350.5 C290.8,348 290.2,345.5 290.2,342.8 C290.2,340.3 290.7,338 291.5,335.8 C292.6,333 294.3,330.8 296.2,329.2 C297.2,328.3 298.2,327.6 299.3,327.2 Z" stroke="none" stroke-width="0" fill="url(#sp3)"/>
<path d="M321.3,325.9 C323,325.6 324.8,325.8 325.7,326.8 C326.4,327.5 326.3,328.2 326.1,328.9 C325.7,331 325.3,333 325.2,335 C325,338 324.8,341 324.8,343.6 C324.8,346 325,348.5 325.2,350.5 C325.4,352.5 325.6,354.3 325.2,355.7 C324.8,357 324,357.6 323.1,357.5 C321.8,357.4 320.6,357.2 319.6,356.6 C318.2,355.5 317,354 316.1,352.3 C315,350.4 314.3,348.4 314,346.2 C313.6,343.4 313.4,340.5 313.5,337.6 C313.6,335 314.2,332 315.3,329.8 C316.5,327.8 318.8,326.3 321.3,325.9 Z" stroke="none" stroke-width="0" fill="url(#sp4)"/>
<text x="239.3" y="307.19" font-size="8.3" font-weight="bold" text-anchor="middle" textLength="37" lengthAdjust="spacingAndGlyphs">OCI-AML2</text>
<text x="239.5" y="316.19" font-size="8.3" font-weight="bold" text-anchor="middle" textLength="25" lengthAdjust="spacingAndGlyphs">shCTR</text>
<text x="298.3" y="306.89" font-size="8.3" font-weight="bold" text-anchor="middle" textLength="37" lengthAdjust="spacingAndGlyphs">OCI-AML2</text>
<text x="298" y="315.59" font-size="8.3" font-weight="bold" text-anchor="middle" textLength="28" lengthAdjust="spacingAndGlyphs">shGLS1</text>
<text x="349.4" y="159.38" font-size="11" font-weight="bold">F</text>
<line x1="384.1" y1="252.2" x2="384.1" y2="162.3" stroke="#333" stroke-width="1.1"/>
<line x1="382" y1="252.2" x2="384.1" y2="252.2" stroke="#333" stroke-width="0.9"/>
<text x="380.4" y="254.47" font-size="6.3" font-weight="bold" text-anchor="end">0</text>
<line x1="382" y1="234.22" x2="384.1" y2="234.22" stroke="#333" stroke-width="0.9"/>
<text x="380.4" y="236.49" font-size="6.3" font-weight="bold" text-anchor="end">20</text>
<line x1="382" y1="216.24" x2="384.1" y2="216.24" stroke="#333" stroke-width="0.9"/>
<text x="380.4" y="218.51" font-size="6.3" font-weight="bold" text-anchor="end">40</text>
<line x1="382" y1="198.26" x2="384.1" y2="198.26" stroke="#333" stroke-width="0.9"/>
<text x="380.4" y="200.53" font-size="6.3" font-weight="bold" text-anchor="end">60</text>
<line x1="382" y1="180.28" x2="384.1" y2="180.28" stroke="#333" stroke-width="0.9"/>
<text x="380.4" y="182.55" font-size="6.3" font-weight="bold" text-anchor="end">80</text>
<line x1="382" y1="162.3" x2="384.1" y2="162.3" stroke="#333" stroke-width="0.9"/>
<text x="380.4" y="164.57" font-size="6.3" font-weight="bold" text-anchor="end">100</text>
<line x1="384.1" y1="252.2" x2="519" y2="252.2" stroke="#333" stroke-width="1.1"/>
<text x="366.38" y="248.8" font-size="6.6" font-weight="bold" textLength="81.3" lengthAdjust="spacingAndGlyphs" transform="rotate(-90 366.38 248.8)">% cells annexin V positive</text>
<line x1="391.6" y1="246.81" x2="391.6" y2="246.36" stroke="#555" stroke-width="0.5"/>
<line x1="389.6" y1="246.36" x2="393.6" y2="246.36" stroke="#555" stroke-width="0.5"/>
<rect x="386.75" y="246.81" width="9.7" height="5.39" fill="#d6d6d6" stroke="#555" stroke-width="0.5"/>
<line x1="406.75" y1="186.57" x2="406.75" y2="185.67" stroke="#555" stroke-width="0.5"/>
<line x1="404.75" y1="185.67" x2="408.75" y2="185.67" stroke="#555" stroke-width="0.5"/>
<rect x="401.75" y="186.57" width="10" height="65.63" fill="#d6d6d6" stroke="#555" stroke-width="0.5"/>
<line x1="421.75" y1="246.81" x2="421.75" y2="246.36" stroke="#2c3c64" stroke-width="0.6"/>
<line x1="419.75" y1="246.36" x2="423.75" y2="246.36" stroke="#2c3c64" stroke-width="0.6"/>
<rect x="416.8" y="246.81" width="9.9" height="5.39" fill="#6692e2" stroke="#2c3c64" stroke-width="0.6"/>
<line x1="436.55" y1="245.91" x2="436.55" y2="245.46" stroke="#2c3c64" stroke-width="0.6"/>
<line x1="434.55" y1="245.46" x2="438.55" y2="245.46" stroke="#2c3c64" stroke-width="0.6"/>
<rect x="431.6" y="245.91" width="9.9" height="6.29" fill="#6692e2" stroke="#2c3c64" stroke-width="0.6"/>
<line x1="466.3" y1="249.23" x2="466.3" y2="248.78" stroke="#555" stroke-width="0.5"/>
<line x1="464.3" y1="248.78" x2="468.3" y2="248.78" stroke="#555" stroke-width="0.5"/>
<rect x="461.35" y="249.23" width="9.9" height="2.97" fill="#f2f2f2" stroke="#555" stroke-width="0.5"/>
<line x1="481.55" y1="195.56" x2="481.55" y2="192.87" stroke="#555" stroke-width="0.5"/>
<line x1="479.55" y1="192.87" x2="483.55" y2="192.87" stroke="#555" stroke-width="0.5"/>
<rect x="476.65" y="195.56" width="9.8" height="56.64" fill="#d6d6d6" stroke="#555" stroke-width="0.5"/>
<line x1="496.45" y1="245.91" x2="496.45" y2="245.73" stroke="#2c3c64" stroke-width="0.6"/>
<line x1="494.45" y1="245.73" x2="498.45" y2="245.73" stroke="#2c3c64" stroke-width="0.6"/>
<rect x="491.7" y="245.91" width="9.5" height="6.29" fill="#6692e2" stroke="#2c3c64" stroke-width="0.6"/>
<line x1="511.5" y1="245.91" x2="511.5" y2="245.46" stroke="#2c3c64" stroke-width="0.6"/>
<line x1="509.5" y1="245.46" x2="513.5" y2="245.46" stroke="#2c3c64" stroke-width="0.6"/>
<rect x="506.8" y="245.91" width="9.4" height="6.29" fill="#6692e2" stroke="#2c3c64" stroke-width="0.6"/>
<rect x="388.4" y="155.4" width="9.6" height="4.6" fill="#d8d8d8" stroke="#666" stroke-width="0.7"/>
<rect x="388.4" y="165.7" width="9.6" height="4.6" fill="#6692e2" stroke="#2c3c64" stroke-width="0.7"/>
<text x="403" y="159.68" font-size="6.6" font-weight="bold" textLength="40" lengthAdjust="spacingAndGlyphs">dmaKG 0mM</text>
<text x="403" y="170.08" font-size="6.6" font-weight="bold" textLength="40" lengthAdjust="spacingAndGlyphs">dmaKG 5mM</text>
<line x1="408.3" y1="181.5" x2="436" y2="181.5" stroke="#333" stroke-width="1.0"/>
<text x="418.48" y="180.9" font-size="6.37" font-weight="bold" fill="#222">***</text>
<line x1="481.9" y1="189.8" x2="509.6" y2="189.8" stroke="#333" stroke-width="1.0"/>
<text x="492.58" y="189" font-size="6.37" font-weight="bold" fill="#222">***</text>
<text x="341" y="264.28" font-size="6.6" font-weight="bold" textLength="42.3" lengthAdjust="spacingAndGlyphs">CB-839 (1µM)</text>
<text x="391" y="263.23" font-size="6.2" font-weight="bold" text-anchor="middle" fill="#444">-</text>
<text x="407" y="263.23" font-size="6.2" font-weight="bold" text-anchor="middle" fill="#444">+</text>
<text x="421.7" y="263.23" font-size="6.2" font-weight="bold" text-anchor="middle" fill="#444">-</text>
<text x="437.3" y="263.23" font-size="6.2" font-weight="bold" text-anchor="middle" fill="#444">+</text>
<text x="466.7" y="263.23" font-size="6.2" font-weight="bold" text-anchor="middle" fill="#444">-</text>
<text x="481" y="263.23" font-size="6.2" font-weight="bold" text-anchor="middle" fill="#444">+</text>
<text x="497.1" y="263.23" font-size="6.2" font-weight="bold" text-anchor="middle" fill="#444">-</text>
<text x="513" y="263.23" font-size="6.2" font-weight="bold" text-anchor="middle" fill="#444">+</text>
<line x1="386" y1="267.8" x2="443" y2="267.8" stroke="#444" stroke-width="0.8"/>
<line x1="462.9" y1="267.8" x2="514.8" y2="267.8" stroke="#444" stroke-width="0.8"/>
<text x="413.5" y="277.12" font-size="7" font-weight="bold" text-anchor="middle" textLength="31.7" lengthAdjust="spacingAndGlyphs">OCI-AML2</text>
<text x="486.6" y="277.22" font-size="7" font-weight="bold" text-anchor="middle" textLength="18.1" lengthAdjust="spacingAndGlyphs">HL-60</text>
<text x="349.5" y="301.98" font-size="11" font-weight="bold">G</text>
<line x1="384.4" y1="386" x2="384.4" y2="298.7" stroke="#222" stroke-width="1.1"/>
<line x1="382.3" y1="386" x2="384.4" y2="386" stroke="#222" stroke-width="0.9"/>
<text x="380.8" y="388.27" font-size="6.3" font-weight="bold" text-anchor="end">0</text>
<line x1="382.3" y1="368.54" x2="384.4" y2="368.54" stroke="#222" stroke-width="0.9"/>
<text x="380.8" y="370.81" font-size="6.3" font-weight="bold" text-anchor="end">20</text>
<line x1="382.3" y1="351.08" x2="384.4" y2="351.08" stroke="#222" stroke-width="0.9"/>
<text x="380.8" y="353.35" font-size="6.3" font-weight="bold" text-anchor="end">40</text>
<line x1="382.3" y1="333.62" x2="384.4" y2="333.62" stroke="#222" stroke-width="0.9"/>
<text x="380.8" y="335.89" font-size="6.3" font-weight="bold" text-anchor="end">60</text>
<line x1="382.3" y1="316.16" x2="384.4" y2="316.16" stroke="#222" stroke-width="0.9"/>
<text x="380.8" y="318.43" font-size="6.3" font-weight="bold" text-anchor="end">80</text>
<line x1="382.3" y1="298.7" x2="384.4" y2="298.7" stroke="#222" stroke-width="0.9"/>
<text x="380.8" y="300.97" font-size="6.3" font-weight="bold" text-anchor="end">100</text>
<line x1="384.4" y1="386" x2="515" y2="386" stroke="#222" stroke-width="1.1"/>
<text x="366.38" y="382.9" font-size="6.6" font-weight="bold" textLength="79.5" lengthAdjust="spacingAndGlyphs" transform="rotate(-90 366.38 382.9)">% cells annexin V positive</text>
<line x1="391.9" y1="380.76" x2="391.9" y2="380.41" stroke="#666" stroke-width="0.5"/>
<line x1="389.9" y1="380.41" x2="393.9" y2="380.41" stroke="#666" stroke-width="0.5"/>
<rect x="387.35" y="380.76" width="9.1" height="5.24" fill="#dedede" stroke="#666" stroke-width="0.5"/>
<line x1="406.35" y1="352.39" x2="406.35" y2="348.9" stroke="#a00" stroke-width="0.5"/>
<line x1="404.35" y1="348.9" x2="408.35" y2="348.9" stroke="#a00" stroke-width="0.5"/>
<rect x="401.45" y="352.39" width="9.8" height="33.61" fill="#e60a0a" stroke="#a00" stroke-width="0.5"/>
<line x1="420.5" y1="381.11" x2="420.5" y2="380.59" stroke="#666" stroke-width="0.5"/>
<line x1="418.5" y1="380.59" x2="422.5" y2="380.59" stroke="#666" stroke-width="0.5"/>
<rect x="415.65" y="381.11" width="9.7" height="4.89" fill="#dedede" stroke="#666" stroke-width="0.5"/>
<line x1="435.45" y1="360.68" x2="435.45" y2="358.94" stroke="#a22" stroke-width="0.5"/>
<line x1="433.45" y1="358.94" x2="437.45" y2="358.94" stroke="#a22" stroke-width="0.5"/>
<rect x="430.65" y="360.68" width="9.6" height="25.32" fill="#e04848" stroke="#a22" stroke-width="0.5"/>
<line x1="464.2" y1="381.11" x2="464.2" y2="380.59" stroke="#666" stroke-width="0.5"/>
<line x1="462.2" y1="380.59" x2="466.2" y2="380.59" stroke="#666" stroke-width="0.5"/>
<rect x="459.25" y="381.11" width="9.9" height="4.89" fill="#dedede" stroke="#666" stroke-width="0.5"/>
<line x1="478.85" y1="359.37" x2="478.85" y2="358.76" stroke="#a00" stroke-width="0.5"/>
<line x1="476.85" y1="358.76" x2="480.85" y2="358.76" stroke="#a00" stroke-width="0.5"/>
<rect x="474.35" y="359.37" width="9" height="26.63" fill="#e60a0a" stroke="#a00" stroke-width="0.5"/>
<line x1="493.6" y1="374.65" x2="493.6" y2="374.13" stroke="#666" stroke-width="0.5"/>
<line x1="491.6" y1="374.13" x2="495.6" y2="374.13" stroke="#666" stroke-width="0.5"/>
<rect x="488.75" y="374.65" width="9.7" height="11.35" fill="#dedede" stroke="#666" stroke-width="0.5"/>
<line x1="508" y1="380.33" x2="508" y2="379.89" stroke="#a22" stroke-width="0.5"/>
<line x1="506" y1="379.89" x2="510" y2="379.89" stroke="#a22" stroke-width="0.5"/>
<rect x="503.25" y="380.33" width="9.5" height="5.67" fill="#e04848" stroke="#a22" stroke-width="0.5"/>
<rect x="388.1" y="300.4" width="9.9" height="3.4" fill="#e0e0e0" stroke="#777" stroke-width="0.5"/>
<rect x="388.1" y="310.4" width="9.9" height="3.5" fill="#d42020" stroke="#922" stroke-width="0.5"/>
<text x="402.6" y="304.48" font-size="6.6" font-weight="bold" textLength="19" lengthAdjust="spacingAndGlyphs">DMSO</text>
<text x="402.6" y="314.48" font-size="6.6" font-weight="bold" textLength="40.4" lengthAdjust="spacingAndGlyphs">CB-839 (1µM)</text>
<text x="475.8" y="304.62" font-size="7" font-weight="bold" font-style="italic" textLength="30.7" lengthAdjust="spacingAndGlyphs">OCI-AML2</text>
<line x1="407" y1="344.5" x2="433.5" y2="344.5" stroke="#333" stroke-width="1.0"/>
<text x="420.5" y="343.95" font-size="6.8" text-anchor="middle" fill="#333" textLength="6.6" lengthAdjust="spacingAndGlyphs">ns</text>
<line x1="479.3" y1="354" x2="507" y2="354" stroke="#333" stroke-width="1.0"/>
<text x="489.68" y="354.27" font-size="6.71" font-weight="bold" fill="#222">***</text>
<text x="342.3" y="398.25" font-size="6.8" font-weight="bold" textLength="35.2" lengthAdjust="spacingAndGlyphs">doxycycline</text>
<text x="390.4" y="397.73" font-size="6.2" font-weight="bold" text-anchor="middle" fill="#444">-</text>
<text x="406.3" y="397.73" font-size="6.2" font-weight="bold" text-anchor="middle" fill="#444">-</text>
<text x="420.8" y="397.73" font-size="6.2" font-weight="bold" text-anchor="middle" fill="#444">+</text>
<text x="436.2" y="397.73" font-size="6.2" font-weight="bold" text-anchor="middle" fill="#444">+</text>
<text x="464.6" y="397.73" font-size="6.2" font-weight="bold" text-anchor="middle" fill="#444">-</text>
<text x="478.4" y="397.73" font-size="6.2" font-weight="bold" text-anchor="middle" fill="#444">-</text>
<text x="494" y="397.73" font-size="6.2" font-weight="bold" text-anchor="middle" fill="#444">+</text>
<text x="509.6" y="397.73" font-size="6.2" font-weight="bold" text-anchor="middle" fill="#444">+</text>
<line x1="385.8" y1="401.5" x2="441.2" y2="401.5" stroke="#444" stroke-width="0.8"/>
<line x1="462" y1="401.5" x2="512.2" y2="401.5" stroke="#444" stroke-width="0.8"/>
<text x="395.4" y="410.02" font-size="7" font-weight="bold" textLength="37" lengthAdjust="spacingAndGlyphs">GAC-V5 WT</text>
<text x="462.9" y="409.12" font-size="7" font-weight="bold" textLength="44.6" lengthAdjust="spacingAndGlyphs">GAC-V5 K320A</text>
<text x="174" y="438.18" font-size="11" font-weight="bold">H</text>
<line x1="204.2" y1="525.7" x2="204.2" y2="439.8" stroke="#333" stroke-width="0.8"/>
<line x1="202.2" y1="525.7" x2="204.2" y2="525.7" stroke="#333" stroke-width="0.8"/>
<text x="201.1" y="527.97" font-size="6.3" font-weight="bold" text-anchor="end">0</text>
<line x1="202.2" y1="508.52" x2="204.2" y2="508.52" stroke="#333" stroke-width="0.8"/>
<text x="201.1" y="510.79" font-size="6.3" font-weight="bold" text-anchor="end">10</text>
<line x1="202.2" y1="491.34" x2="204.2" y2="491.34" stroke="#333" stroke-width="0.8"/>
<text x="201.1" y="493.61" font-size="6.3" font-weight="bold" text-anchor="end">20</text>
<line x1="202.2" y1="474.16" x2="204.2" y2="474.16" stroke="#333" stroke-width="0.8"/>
<text x="201.1" y="476.43" font-size="6.3" font-weight="bold" text-anchor="end">30</text>
<line x1="202.2" y1="456.98" x2="204.2" y2="456.98" stroke="#333" stroke-width="0.8"/>
<text x="201.1" y="459.25" font-size="6.3" font-weight="bold" text-anchor="end">40</text>
<line x1="202.2" y1="439.8" x2="204.2" y2="439.8" stroke="#333" stroke-width="0.8"/>
<text x="201.1" y="442.07" font-size="6.3" font-weight="bold" text-anchor="end">50</text>
<line x1="204.2" y1="525.7" x2="334" y2="525.7" stroke="#333" stroke-width="0.8"/>
<text x="182.78" y="509" font-size="6.6" font-weight="bold" textLength="47.1" lengthAdjust="spacingAndGlyphs" transform="rotate(-90 182.78 509)">% cells annexin V</text>
<text x="189.58" y="506.5" font-size="6.6" font-weight="bold" textLength="42.9" lengthAdjust="spacingAndGlyphs" transform="rotate(-90 189.58 506.5)">positive at day 4</text>
<text x="207.3" y="534.15" font-size="6.8" font-weight="bold" textLength="19.7" lengthAdjust="spacingAndGlyphs">DMSO</text>
<text x="232" y="534.15" font-size="6.8" font-weight="bold" textLength="21.5" lengthAdjust="spacingAndGlyphs">CB-839</text>
<text x="285.1" y="534.05" font-size="6.8" font-weight="bold" textLength="19" lengthAdjust="spacingAndGlyphs">DMSO</text>
<text x="309" y="534.05" font-size="6.8" font-weight="bold" textLength="21.6" lengthAdjust="spacingAndGlyphs">CB-839</text>
<line x1="218.2" y1="449.3" x2="245.1" y2="449.3" stroke="#222" stroke-width="1.2"/>
<text x="227.68" y="449.25" font-size="7.06" font-weight="bold" fill="#222">***</text>
<line x1="292.7" y1="499.3" x2="320.2" y2="499.3" stroke="#222" stroke-width="1.1"/>
<text x="306.8" y="495.65" font-size="6.8" text-anchor="middle" fill="#333" textLength="6.5" lengthAdjust="spacingAndGlyphs">ns</text>
<circle cx="267.5" cy="445.7" r="1.3" fill="#000"/>
<circle cx="269.8" cy="455.9" r="1.3" fill="#999"/>
<text x="277.6" y="448.22" font-size="7" font-style="italic" fill="#222" textLength="66.7" lengthAdjust="spacingAndGlyphs">AML samples (n=10)</text>
<text x="279.6" y="458.42" font-size="7" font-style="italic" fill="#222" textLength="37.3" lengthAdjust="spacingAndGlyphs">CD34 (n=6)</text>
<line x1="209.3" y1="492.6" x2="225.7" y2="492.6" stroke="#222" stroke-width="1.1"/>
<line x1="217.4" y1="488.6" x2="217.4" y2="496.6" stroke="#222" stroke-width="0.6"/>
<line x1="215" y1="488.6" x2="219.8" y2="488.6" stroke="#222" stroke-width="0.6"/>
<line x1="215" y1="496.6" x2="219.8" y2="496.6" stroke="#222" stroke-width="0.6"/>
<path d="M217.6,468.8 L219.7,470.9 L217.6,473 L215.5,470.9 Z" fill="#111"/>
<circle cx="221.4" cy="470.9" r="1.57" fill="#fff" stroke="#111" stroke-width="1.1"/>
<path d="M213.8,493.03 L215.73,489.53 L211.88,489.53 Z" fill="#111"/>
<circle cx="217.6" cy="492.6" r="1.75" fill="#111"/>
<rect x="220.21" y="490.11" width="2.98" height="2.98" fill="#fff" stroke="#111" stroke-width="1.1"/>
<path d="M217.6,496.2 L219.7,498.3 L217.6,500.4 L215.5,498.3 Z" fill="#111"/>
<path d="M221.7,495.36 L223.14,496.8 L221.7,498.24 L220.26,496.8 Z" fill="#111"/>
<path d="M213.5,502.73 L215.37,506.13 L211.63,506.13 Z" fill="#111"/>
<rect x="215.85" y="503.25" width="3.5" height="3.5" fill="#111"/>
<circle cx="217.6" cy="512" r="1.75" fill="#111"/>
<line x1="234.4" y1="480.7" x2="252" y2="480.7" stroke="#222" stroke-width="1.1"/>
<line x1="243.3" y1="476.7" x2="243.3" y2="484.8" stroke="#222" stroke-width="0.6"/>
<line x1="240.9" y1="484.8" x2="245.7" y2="484.8" stroke="#222" stroke-width="0.6"/>
<circle cx="242.9" cy="458.7" r="1.57" fill="#fff" stroke="#111" stroke-width="1.1"/>
<circle cx="243.3" cy="463.9" r="1.75" fill="#111"/>
<circle cx="239.2" cy="474.4" r="1.57" fill="#fff" stroke="#111" stroke-width="1.1"/>
<rect x="246.01" y="472.91" width="2.98" height="2.98" fill="#fff" stroke="#111" stroke-width="1.1"/>
<path d="M243.3,475.7 L245.4,477.8 L243.3,479.9 L241.2,477.8 Z" fill="#111"/>
<path d="M243.3,484.25 L244.95,481.25 L241.65,481.25 Z" fill="#111"/>
<path d="M243.3,486 L245.4,488.1 L243.3,490.2 L241.2,488.1 Z" fill="#111"/>
<path d="M239.2,494.63 L241.07,498.03 L237.33,498.03 Z" fill="#111"/>
<circle cx="243.3" cy="500.1" r="1.75" fill="#111"/>
<rect x="246.1" y="496.9" width="2.8" height="2.8" fill="#111"/>
<line x1="285.8" y1="512.7" x2="303.8" y2="512.7" stroke="#222" stroke-width="1.0"/>
<circle cx="292.5" cy="508" r="1.4" fill="#7a7a7a"/>
<circle cx="298.5" cy="510.2" r="1.4" fill="#7a7a7a"/>
<circle cx="294.8" cy="512.7" r="1.4" fill="#7a7a7a"/>
<circle cx="298.5" cy="515.7" r="1.4" fill="#7a7a7a"/>
<circle cx="294.8" cy="519" r="1.4" fill="#7a7a7a"/>
<line x1="312.3" y1="509.3" x2="329.2" y2="509.3" stroke="#222" stroke-width="1.0"/>
<path d="M316.5,510.84 L318.04,508.04 L314.96,508.04 Z" fill="#6a6a6a"/>
<path d="M320.4,510.84 L321.94,508.04 L318.86,508.04 Z" fill="#6a6a6a"/>
<path d="M325,510.84 L326.54,508.04 L323.46,508.04 Z" fill="#6a6a6a"/>
</svg></body></html>
